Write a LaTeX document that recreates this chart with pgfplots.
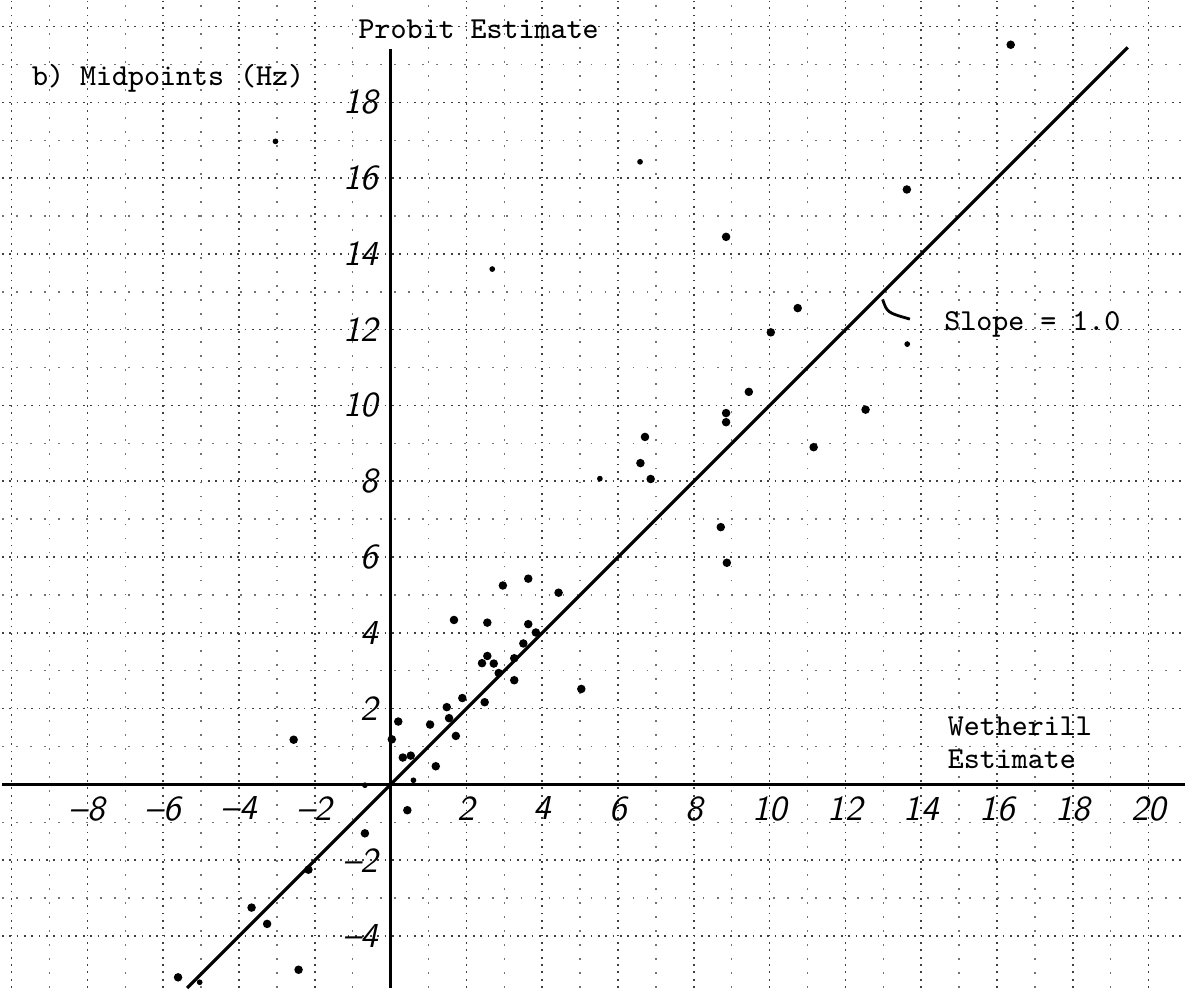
\documentclass[border=0pt]{standalone}
\usepackage{pgfplots}
\pgfplotsset{compat=1.18}
\begin{document}
\begin{tikzpicture}
\begin{axis}[
  width=11.87cm, height=9.9cm, scale only axis,
  xmin=-10.26, xmax=20.97, ymin=-5.37, ymax=20.68,
  axis lines=middle, axis line style={draw=none},
  xtick={-10,-8,...,20}, ytick={-4,-2,...,20},
  xticklabels={,\textendash8,\textendash6,\textendash4,\textendash2,,2,4,6,8,10,12,14,16,18,20},
  yticklabels={\textendash4,\textendash2,,2,4,6,8,10,12,14,16,18,},
  minor x tick num=1, minor y tick num=1,
  grid=both,
  major grid style={black!75, line width=0.45pt, dash pattern=on 0.5pt off 1.6pt},
  minor grid style={black!55, line width=0.4pt, dash pattern=on 0.5pt off 3.5pt},
  major tick length=0pt, minor tick length=0pt,
  tick label style={font=\fontsize{10}{12}\selectfont\sffamily\itshape},
  clip=false,
]
\path (rel axis cs:0,0) rectangle (rel axis cs:1,1);
\draw[line width=0.9pt] (axis cs:-10.26,0) -- (axis cs:20.97,0);
\draw[line width=0.9pt] (axis cs:0,-5.37) -- (axis cs:0,19.42);
\addplot[black, line width=0.9pt] coordinates {(-5.37,-5.37) (19.45,19.45)};
\addplot[only marks, mark=*, mark size=1pt, black] coordinates {
(16.36,19.52) (13.62,15.70) (8.85,14.45) (10.74,12.57) (10.03,11.93)
(9.45,10.36) (8.85,9.80) (8.85,9.56) (12.53,9.89) (6.71,9.17)
(6.59,8.48) (6.86,8.06) (11.16,8.90) (8.71,6.79) (8.87,5.85)
(2.96,5.25) (3.63,5.43) (4.43,5.06) (1.67,4.34) (2.55,4.27)
(3.63,4.23) (3.83,4.01) (3.50,3.72) (2.55,3.39) (2.41,3.20)
(2.72,3.19) (3.26,3.33) (2.85,2.94) (3.26,2.75) (5.03,2.52)
(1.89,2.28) (2.48,2.17) (1.48,2.04) (1.54,1.75) (1.04,1.58)
(0.20,1.66) (1.72,1.28) (0.03,1.19) (0.32,0.71) (0.53,0.76)
(1.19,0.48) (0.44,-0.68) (-0.68,-1.29) (-2.56,1.18) (-2.17,-2.25)
(-3.67,-3.25) (-3.26,-3.68) (-2.43,-4.89) (-5.61,-5.09)
};
\addplot[only marks, mark=*, mark size=0.6pt, black] coordinates {
(6.58,16.43) (-3.04,16.97) (2.68,13.6) (13.63,11.62) (5.52,8.07)
(0.60,0.11) (-0.68,-0.02) (-5.04,-5.22)
};
\draw[line width=0.8pt] (axis cs:12.98,12.8) .. controls (axis cs:13.1,12.45) .. (axis cs:13.7,12.28);
\node[font=\fontsize{8.7}{10}\selectfont\ttfamily] at (axis cs:2.32,19.92) {Probit Estimate};
\node[font=\fontsize{8.7}{10}\selectfont\ttfamily] at (axis cs:-5.87,18.63) {b) Midpoints (Hz)};
\node[font=\fontsize{8.7}{9.2}\selectfont\ttfamily, align=left] at (axis cs:16.6,1.1) {Wetherill\\Estimate};
\node[font=\fontsize{8.7}{10}\selectfont\ttfamily] at (axis cs:16.93,12.13) {Slope = 1.0};
\end{axis}
\end{tikzpicture}
\end{document}
